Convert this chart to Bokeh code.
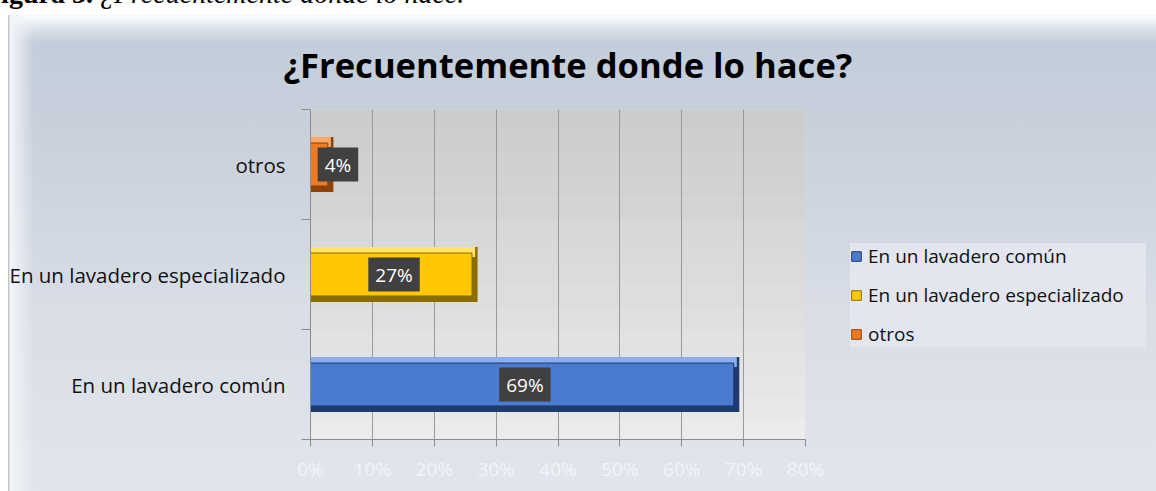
from bokeh.plotting import figure
from bokeh.layouts import column
from bokeh.models import (ColumnDataSource, FixedTicker, NumeralTickFormatter, Range1d,
                          Legend, LegendItem, Label, BoxAnnotation, Div)
from bokeh.embed import file_html
from bokeh.resources import INLINE

# ---------------- data ----------------
categories = ["En un lavadero común", "En un lavadero especializado", "otros"]
values = [0.693, 0.27, 0.037]
value_labels = ["69%", "27%", "4%"]
label_x_offsets = [0, 0, 16]
x_ticks = [0.0, 0.1, 0.2, 0.3, 0.4, 0.5, 0.6, 0.7, 0.8]
title_text = "¿Frecuentemente donde lo hace?"
caption_bold = "Figura 3."
caption_italic = "¿Frecuentemente donde lo hace."

main_colors = ["#4a7bd0", "#ffc800", "#ee7b24"]
light_colors = ["#8aaef2", "#ffe566", "#f9a766"]
dark_colors = ["#1f3a6e", "#8c6d00", "#8f4208"]

FONT = "Open Sans"

caption = Div(
    text=('<div style="margin-top:-28px;transform:translateY(-9px);margin-left:-16px;white-space:nowrap;'
          'font-family:\'Liberation Serif\';font-size:28px;line-height:28px;color:#000">'
          '<b>%s</b> <i>%s</i></div>') % (caption_bold, caption_italic),
    width=1156, height=15, margin=0,
    styles={"overflow": "hidden", "background": "#ffffff"})

p = figure(width=1156, height=476, frame_width=495, frame_height=330,
           min_border_left=310, min_border_right=351,
           min_border_top=94, min_border_bottom=52,
           x_range=Range1d(0, 0.8), y_range=Range1d(0, 3),
           output_backend="svg", toolbar_location=None, margin=0)

p.border_fill_alpha = 0
p.background_fill_color = "#dcdcdc"
p.outline_line_color = None
p.styles = {
    "background": (
        "linear-gradient(to right, #ffffff 0px, #ffffff 8px, rgba(255,255,255,0) 8px),"
        "linear-gradient(to right, rgba(0,0,0,0) 8px, #aab2bf 8px, #f2f4f7 10px, rgba(255,255,255,0) 34px),"
        "linear-gradient(to bottom, #f3f5f8 0px, #fbfcfd 2px, #dfe5ee 12px, #c4cddb 28px,"
        " #c8d0dc 110px, #d8dde6 290px, #e2e5ec 476px)"
    )
}

# plot-area gradient (top darker grey, bottom lighter)
n_strips = 15
for i in range(n_strips):
    t = i / (n_strips - 1)
    c0, c1 = (0xcd, 0xcc, 0xcc), (0xeb, 0xeb, 0xeb)
    col = "#%02x%02x%02x" % tuple(int(a + (b - a) * t) for a, b in zip(c0, c1))
    p.add_layout(BoxAnnotation(bottom=3 - 3 * (i + 1) / n_strips, top=3 - 3 * i / n_strips,
                               fill_color=col, fill_alpha=1, line_alpha=0, level="image"))

# title
p.title.text = title_text
p.title.align = "left"
p.title.offset = -27
p.title.text_font = FONT
p.title.text_font_style = "bold"
p.title.text_font_size = "34.6px"
p.title.text_color = "#000000"
p.title.standoff = 44

# grid
p.xgrid.ticker = FixedTicker(ticks=x_ticks)
p.xgrid.grid_line_color = "#9a9a9a"
p.xgrid.grid_line_width = 1
p.ygrid.grid_line_color = None

# axes
p.xaxis.ticker = FixedTicker(ticks=x_ticks)
p.xaxis.formatter = NumeralTickFormatter(format="0%")
p.xaxis.major_label_text_color = "#f2f4f8"
p.xaxis.major_label_text_font = FONT
p.xaxis.major_label_text_font_size = "19px"
p.xaxis.major_label_standoff = 9
p.xaxis.axis_line_color = "#8c8c8c"
p.xaxis.major_tick_line_color = "#8c8c8c"
p.xaxis.major_tick_out = 7
p.xaxis.major_tick_in = 0
p.xaxis.minor_tick_line_color = None

y_centers = [i + 0.5 for i in range(len(categories))]
p.yaxis.ticker = FixedTicker(ticks=y_centers, minor_ticks=[0, 1, 2, 3])
p.yaxis.major_label_overrides = {y: c for y, c in zip(y_centers, categories)}
p.yaxis.major_label_text_font = FONT
p.yaxis.major_label_text_font_size = "20.5px"
p.yaxis.major_label_text_color = "#111111"
p.yaxis.major_label_standoff = 16
p.yaxis.major_tick_line_color = None
p.yaxis.major_tick_out = 0
p.yaxis.major_tick_in = 0
p.yaxis.minor_tick_line_color = "#8c8c8c"
p.yaxis.minor_tick_out = 9
p.yaxis.minor_tick_in = 0
p.yaxis.axis_line_color = "#8c8c8c"

# bars with bevel look
legend_items = []
for i, (cat, v) in enumerate(zip(categories, values)):
    y = y_centers[i]
    src = ColumnDataSource(dict(y=[y], v=[v], vin=[v - 0.009], ytop=[y + 0.205], vtop=[v - 0.004]))
    p.hbar(y="y", right="v", left=0, height=0.5, source=src,
           fill_color=dark_colors[i], line_color=None)
    p.hbar(y="ytop", right="vtop", left=0, height=0.09, source=src,
           fill_color=light_colors[i], line_color=None)
    main = p.hbar(y="y", right="vin", left=0, height=0.39, source=src,
                  fill_color=main_colors[i], line_color=dark_colors[i], line_width=1)
    legend_items.append(LegendItem(label=cat, renderers=[main]))

# data labels
for v, y, txt, xo in zip(values, y_centers, value_labels, label_x_offsets):
    p.add_layout(Label(x=v / 2, y=y, text=txt, x_offset=xo,
                       text_align="center", text_baseline="middle",
                       text_color="white", text_font=FONT, text_font_size="19px",
                       background_fill_color="#404040", background_fill_alpha=1,
                       padding=(7, 4)))

# legend (outside, right panel)
legend = Legend(items=legend_items, location=(45, 92),
                background_fill_color="#e3e6ee", background_fill_alpha=1,
                border_line_color=None,
                label_text_font=FONT, label_text_font_size="19px",
                label_text_color="#111111",
                glyph_width=12, glyph_height=12, spacing=13, padding=12,
                label_standoff=6, label_width=278, margin=0)
p.add_layout(legend, "right")

layout = column(caption, p, spacing=0)
open("out.html", "w").write(file_html(layout, INLINE))
